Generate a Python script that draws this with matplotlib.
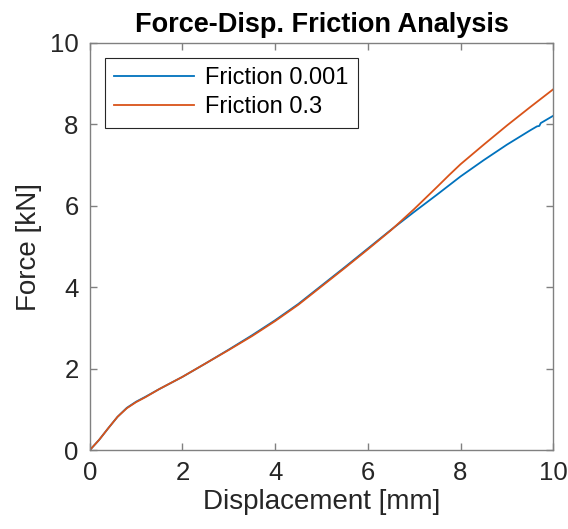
import matplotlib.pyplot as plt

plt.rcParams['font.family'] = ['Liberation Sans', 'DejaVu Sans']

# displacement [mm] and force [kN] for the two friction cases
disp_low = [0.0, 0.2, 0.4, 0.6, 0.8, 1.0, 1.2, 1.5, 2.0, 2.5, 3.0, 3.5, 4.0, 4.5, 5.0,
            5.5, 6.0, 6.5, 7.0, 7.5, 8.0, 8.5, 9.0, 9.5, 9.65, 9.7, 9.73, 10.0]
force_low = [0.0, 0.25, 0.54, 0.82, 1.04, 1.19, 1.31, 1.50, 1.80, 2.13, 2.47, 2.82, 3.19,
             3.59, 4.04, 4.49, 4.95, 5.41, 5.85, 6.28, 6.72, 7.12, 7.50, 7.85, 7.95,
             7.96, 8.03, 8.21]

disp_high = [0.0, 0.2, 0.4, 0.6, 0.8, 1.0, 1.2, 1.5, 2.0, 2.5, 3.0, 3.5, 4.0, 4.5, 5.0,
             5.5, 6.0, 6.5, 7.0, 7.5, 7.75, 8.0, 8.5, 9.0, 9.5, 10.0]
force_high = [0.0, 0.25, 0.54, 0.82, 1.03, 1.18, 1.30, 1.50, 1.80, 2.13, 2.46, 2.80, 3.17,
              3.57, 4.02, 4.47, 4.93, 5.40, 5.92, 6.47, 6.75, 7.02, 7.50, 7.97, 8.42, 8.86]

labels = ['Friction 0.001', 'Friction 0.3']

fig = plt.figure(figsize=(5.68, 5.29), dpi=100)
ax = fig.add_axes([0.158, 0.149, 0.816, 0.770])

ax.plot(disp_low, force_low, color='#0072BD', lw=1.3, label=labels[0])
ax.plot(disp_high, force_high, color='#D95319', lw=1.3, label=labels[1])

ax.set_xlim(0, 10)
ax.set_ylim(0, 10)
ax.set_xticks(range(0, 11, 2))
ax.set_yticks(range(0, 11, 2))

for side in ax.spines.values():
    side.set_color('#808080')
    side.set_linewidth(1.0)
ax.tick_params(direction='in', top=True, right=True, length=5, width=1.0,
               color='#808080', labelsize=18.5, labelcolor='#262626', pad=8)

ax.set_xlabel('Displacement [mm]', fontsize=20, color='#262626', labelpad=3)
ax.set_ylabel('Force [kN]', fontsize=20, color='#262626', labelpad=6)
ax.set_title('Force-Disp. Friction Analysis', fontsize=19.5, fontweight='bold', pad=8)

leg = ax.legend(loc='upper left', bbox_to_anchor=(0.032, 0.963), fontsize=17,
                handlelength=3.4, handletextpad=0.45, borderpad=0.4,
                labelspacing=0.3, fancybox=False, framealpha=1, borderaxespad=0)
leg.get_frame().set_edgecolor('#262626')
leg.get_frame().set_linewidth(0.8)

fig.savefig('out.png', dpi=100)
